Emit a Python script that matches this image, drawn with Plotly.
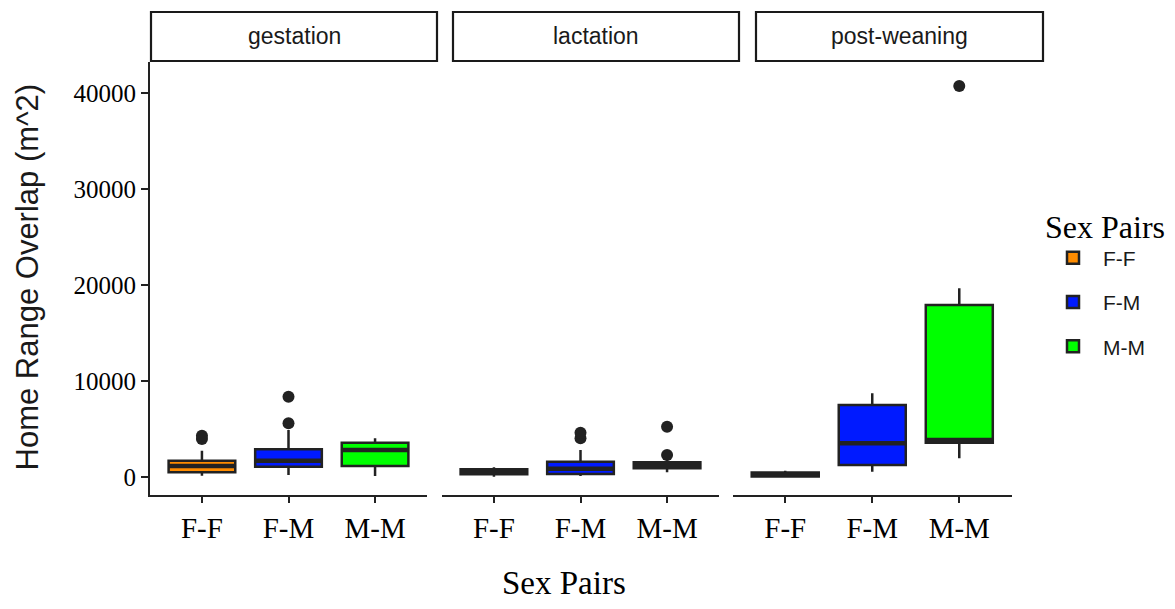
import plotly.graph_objects as go

W, H = 1175, 609

phases = ["gestation", "lactation", "post-weaning"]
pairs = ["F-F", "F-M", "M-M"]
colors = ["#FF8C00", "#001AFF", "#00FF00"]

# per phase, values for F-F, F-M, M-M
q1 = {
    "gestation": [490, 1073, 1146],
    "lactation": [281, 312, 906],
    "post-weaning": [60, 1250, 3573],
}
median = {
    "gestation": [1146, 1698, 2812],
    "lactation": [521, 865, 1219],
    "post-weaning": [270, 3510, 3854],
}
q3 = {
    "gestation": [1698, 2885, 3573],
    "lactation": [802, 1594, 1531],
    "post-weaning": [480, 7500, 17917],
}
lower = {
    "gestation": [135, 208, 104],
    "lactation": [31, 104, 490],
    "post-weaning": [20, 552, 1948],
}
upper = {
    "gestation": [2740, 4896, 4031],
    "lactation": [1010, 2812, 1771],
    "post-weaning": [660, 8719, 19656],
}
outliers = {
    "gestation": [[3950, 4300], [5590, 8365], []],
    "lactation": [[], [4031, 4615], [2292, 5240]],
    "post-weaning": [[], [], [40729]],
}

y_ticks = [0, 10000, 20000, 30000, 40000]
y_range = [-1875, 43229]

# layout geometry (pixels)
panel_px = [(150, 427), (442, 719), (733, 1011.5)]
plot_top, plot_bottom = 62, 495
strip_px = [(151, 437), (453, 739), (756, 1043)]
strip_top, strip_bottom = 12, 61


def px_x(v):
    return v / W


def px_y(v):
    return 1 - v / H


LINE = "#222222"
fig = go.Figure()

for pi, ph in enumerate(phases):
    ax = "" if pi == 0 else str(pi + 1)
    for ci, pr in enumerate(pairs):
        fig.add_trace(go.Box(
            x=[pr], q1=[q1[ph][ci]], median=[median[ph][ci]], q3=[q3[ph][ci]],
            lowerfence=[lower[ph][ci]], upperfence=[upper[ph][ci]],
            fillcolor=colors[ci], line=dict(color=LINE, width=2.5),
            width=0.77, whiskerwidth=0, name=pr, legendgroup=pr, showlegend=(pi == 0),
            xaxis="x" + ax, yaxis="y" + ax, boxpoints=False, hoverinfo="skip",
        ))
        # thick median bar
        fig.add_trace(go.Box(
            x=[pr], q1=[median[ph][ci]], median=[median[ph][ci]], q3=[median[ph][ci]],
            lowerfence=[median[ph][ci]], upperfence=[median[ph][ci]],
            fillcolor="rgba(0,0,0,0)", line=dict(color=LINE, width=4.5),
            width=0.77, whiskerwidth=0, name=pr, legendgroup=pr, showlegend=False,
            xaxis="x" + ax, yaxis="y" + ax, boxpoints=False, hoverinfo="skip",
        ))
        if outliers[ph][ci]:
            fig.add_trace(go.Scatter(
                x=[pr] * len(outliers[ph][ci]), y=outliers[ph][ci], mode="markers",
                marker=dict(color=LINE, size=12), showlegend=False,
                xaxis="x" + ax, yaxis="y" + ax, hoverinfo="skip",
            ))

layout = dict(
    width=W, height=H,
    margin=dict(l=0, r=0, t=0, b=0),
    paper_bgcolor="white", plot_bgcolor="white",
    showlegend=True,
    boxmode="overlay",
    legend=dict(
        x=px_x(1043), y=px_y(196), xanchor="left", yanchor="top",
        title=dict(text="Sex Pairs", font=dict(family="Liberation Serif", size=32, color="black")),
        font=dict(family="Liberation Sans", size=21, color="#1a1a1a"),
        tracegroupgap=14, bgcolor="rgba(0,0,0,0)", itemwidth=50,
    ),
)

for pi in range(3):
    ax = "" if pi == 0 else str(pi + 1)
    x0, x1 = panel_px[pi]
    layout["xaxis" + ax] = dict(
        domain=[px_x(x0), px_x(x1)], anchor="y" + ax,
        type="category", categoryorder="array", categoryarray=pairs,
        range=[-0.6, 2.6], showline=True, linecolor=LINE, linewidth=2,
        ticks="outside", ticklen=6, tickwidth=2, tickcolor=LINE,
        tickfont=dict(family="Liberation Serif", size=29, color="black"),
        showgrid=False, zeroline=False, automargin=False, fixedrange=True,
    )
    ydict = dict(
        domain=[px_y(plot_bottom), px_y(plot_top)], anchor="x" + ax,
        range=y_range, showgrid=False, zeroline=False, automargin=False,
        fixedrange=True,
    )
    if pi == 0:
        ydict.update(
            showline=True, linecolor=LINE, linewidth=2,
            ticks="outside", ticklen=7, tickwidth=2, tickcolor=LINE,
            tickmode="array", tickvals=y_ticks, ticktext=[str(t) for t in y_ticks],
            tickfont=dict(family="Liberation Serif", size=25, color="black"),
        )
    else:
        ydict.update(matches="y", showline=False, showticklabels=False, ticks="")
    layout["yaxis" + ax] = ydict

fig.update_layout(**layout)

# facet strips
for pi, ph in enumerate(phases):
    sx0, sx1 = strip_px[pi]
    fig.add_shape(type="rect", xref="paper", yref="paper",
                  x0=px_x(sx0), x1=px_x(sx1), y0=px_y(strip_bottom), y1=px_y(strip_top),
                  line=dict(color="#1a1a1a", width=2.2), fillcolor="white")
    fig.add_annotation(text=ph, xref="paper", yref="paper",
                       x=px_x((sx0 + sx1) / 2), y=px_y((strip_top + strip_bottom) / 2),
                       showarrow=False, xanchor="center", yanchor="middle",
                       font=dict(family="Liberation Sans", size=23, color="#1a1a1a"))

# axis titles
fig.add_annotation(text="Home Range Overlap (m^2)", xref="paper", yref="paper",
                   x=px_x(27), y=px_y(277.5), textangle=-90, showarrow=False,
                   xanchor="center", yanchor="middle",
                   font=dict(family="Liberation Sans", size=31, color="#1a1a1a"))
fig.add_annotation(text="Sex Pairs", xref="paper", yref="paper",
                   x=px_x(564), y=px_y(583), showarrow=False,
                   xanchor="center", yanchor="middle",
                   font=dict(family="Liberation Serif", size=33, color="black"))

fig.write_html("out.html")
